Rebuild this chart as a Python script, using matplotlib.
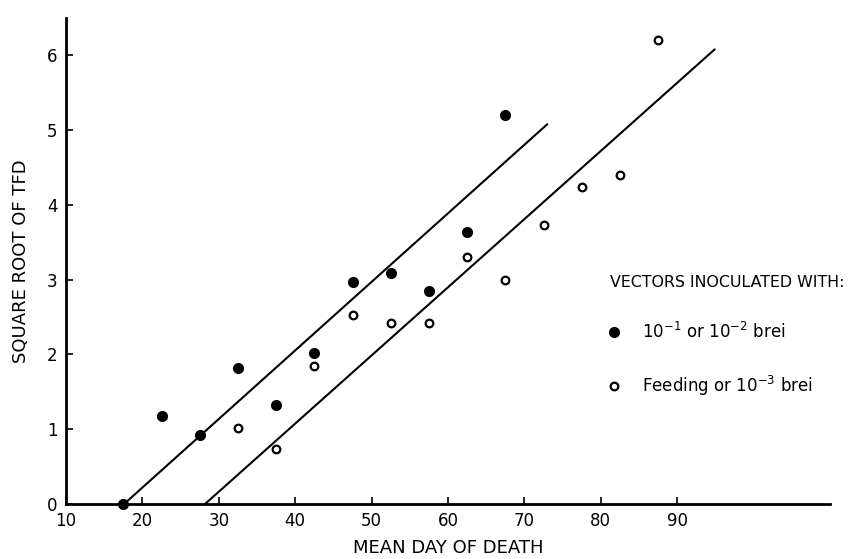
import matplotlib
matplotlib.use('Agg')
import matplotlib.pyplot as plt
import numpy as np

# brei 10^-1 / 10^-2 (filled dots)
x_brei = [17.5, 22.5, 27.5, 32.5, 37.5, 42.5, 47.5, 52.5, 57.5, 62.5, 67.5]
y_brei = [0.0, 1.18, 0.92, 1.82, 1.33, 2.02, 2.97, 3.09, 2.85, 3.64, 5.2]

# feeding or 10^-3 brei (open dots)
x_feed = [32.5, 37.5, 42.5, 47.5, 52.5, 57.5, 62.5, 67.5, 72.5, 77.5, 82.5, 87.5]
y_feed = [1.02, 0.73, 1.84, 2.53, 2.42, 2.42, 3.30, 3.0, 3.73, 4.24, 4.40, 6.21]

# fitted lines (end points)
line_brei_x = [17.6, 73.0]
line_brei_y = [0.0, 5.08]
line_feed_x = [28.2, 94.9]
line_feed_y = [0.0, 6.08]

xticks = [10, 20, 30, 40, 50, 60, 70, 80, 90]
yticks = [0, 1, 2, 3, 4, 5, 6]

fig = plt.figure(figsize=(8.57, 5.59), dpi=100)
ax = fig.add_axes([66 / 857, 55 / 559, (830 - 66) / 857, (504 - 18) / 559])

ax.plot(line_brei_x, line_brei_y, color='black', lw=1.5, solid_capstyle='round')
ax.plot(line_feed_x, line_feed_y, color='black', lw=1.5, solid_capstyle='round')

ax.plot(x_brei, y_brei, 'o', color='black', markersize=7, linestyle='none',
        label=r'10$^{-1}$ or 10$^{-2}$ brei', clip_on=False, zorder=5)
ax.plot(x_feed, y_feed, 'o', markerfacecolor='white', markeredgecolor='black',
        markersize=5.5, markeredgewidth=1.6, linestyle='none',
        label=r'Feeding or 10$^{-3}$ brei', zorder=5)

ax.set_xlim(10, 110)
ax.set_ylim(0, 6.5)
ax.set_xticks(xticks)
ax.set_yticks(yticks)
ax.tick_params(direction='in', length=5, width=1.2, labelsize=12, pad=6)

for s in ['top', 'right']:
    ax.spines[s].set_visible(False)
for s in ['left', 'bottom']:
    ax.spines[s].set_linewidth(2)

ax.set_xlabel('MEAN DAY OF DEATH', fontsize=13, labelpad=6)
ax.set_ylabel('SQUARE ROOT OF TFD', fontsize=13, labelpad=12)

leg = ax.legend(title='VECTORS INOCULATED WITH:', frameon=False,
                loc='upper left', bbox_to_anchor=(595 / 857, 1 - 260 / 559),
                bbox_transform=fig.transFigure, fontsize=12,
                title_fontsize=11.4, labelspacing=1.9, handlelength=0.5,
                handletextpad=1.4, borderpad=0.4)
leg._legend_box.align = 'left'

fig.savefig('out.png', dpi=100)
